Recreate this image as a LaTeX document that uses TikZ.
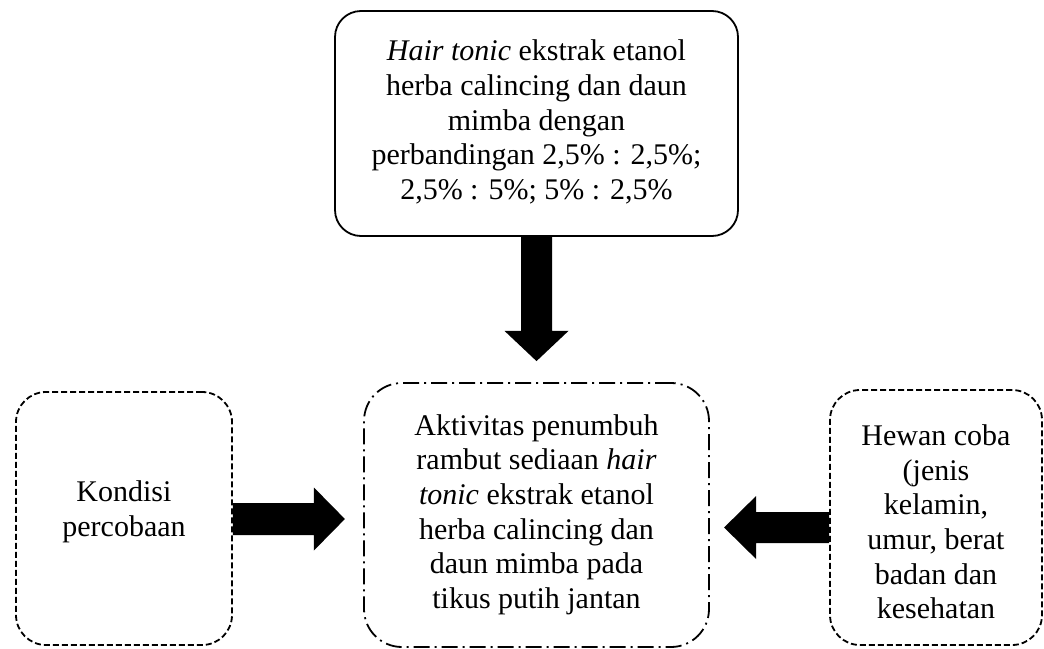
\documentclass[tikz,border=0pt]{standalone}
\usepackage{fontspec}
\setmainfont{Liberation Serif}
\usetikzlibrary{calc}
\tikzset{
  box/.style={draw=black, line width=1.8pt, rounded corners=26pt, inner sep=0pt},
  solidbox/.style={box},
  dashbox/.style={box, dash pattern=on 6pt off 3pt, rounded corners=30pt},
  dotdashbox/.style={box, dash pattern=on 16pt off 5pt on 2pt off 5pt, rounded corners=38pt},
  txt/.style={align=center, font={\fontsize{30}{34.6}\selectfont}, inner sep=0pt},
  fatarrow/.style={fill=black, draw=none}
}
\begin{document}
\begin{tikzpicture}[x=1pt, y=-1pt]
\useasboundingbox (0,0) rectangle (1044,648);
% boxes
\node[solidbox, minimum width=403pt, minimum height=225pt] (top) at (536.5,123.5) {};
\node[dotdashbox, minimum width=345pt, minimum height=264pt] (mid) at (536.5,515) {};
\node[dashbox, minimum width=216pt, minimum height=253pt] (left) at (124,518.5) {};
\node[dashbox, minimum width=212pt, minimum height=255pt] (right) at (936,517.5) {};
% texts
\node[txt] (toptxt) at (536.5,122) {\textit{Hair tonic} ekstrak etanol\\herba calincing dan daun\\mimba dengan\\perbandingan 2,5\% : 2,5\%;\\2,5\% : 5\%; 5\% : 2,5\%};
\node[txt] (midtxt) at (536.5,514.5) {Aktivitas penumbuh\\rambut sediaan \textit{hair}\\\textit{tonic} ekstrak etanol\\herba calincing dan\\daun mimba pada\\tikus putih jantan};
\node[txt] (lefttxt) at (124,512) {Kondisi\\percobaan};
\node[txt] (righttxt) at (936,522) {Hewan coba\\(jenis\\kelamin,\\umur, berat\\badan dan\\kesehatan};
% down arrow
\fill[fatarrow] ($(top.south)+(-15.5,0)$) -- ($(top.south)+(15.5,0)$) -- ($(top.south)+(15.5,94)$)
  -- ($(top.south)+(32,94)$) -- ($(mid.north)+(0,-21)$) -- ($(top.south)+(-32,94)$)
  -- ($(top.south)+(-15.5,94)$) -- cycle;
% right-pointing arrow
\coordinate (ra) at (left.east |- 0,519);
\fill[fatarrow] ($(ra)+(0,-16)$) -- ($(ra)+(81,-16)$) -- ($(ra)+(81,-31.5)$) -- ($(ra)+(112,0)$)
  -- ($(ra)+(81,31.5)$) -- ($(ra)+(81,16)$) -- ($(ra)+(0,16)$) -- cycle;
% left-pointing arrow
\coordinate (la) at (right.west |- 0,527.5);
\fill[fatarrow] ($(la)+(0,-15.5)$) -- ($(la)+(-73,-15.5)$) -- ($(la)+(-73,-31.5)$) -- ($(la)+(-105,0)$)
  -- ($(la)+(-73,31.5)$) -- ($(la)+(-73,15.5)$) -- ($(la)+(0,15.5)$) -- cycle;
\end{tikzpicture}
\end{document}
